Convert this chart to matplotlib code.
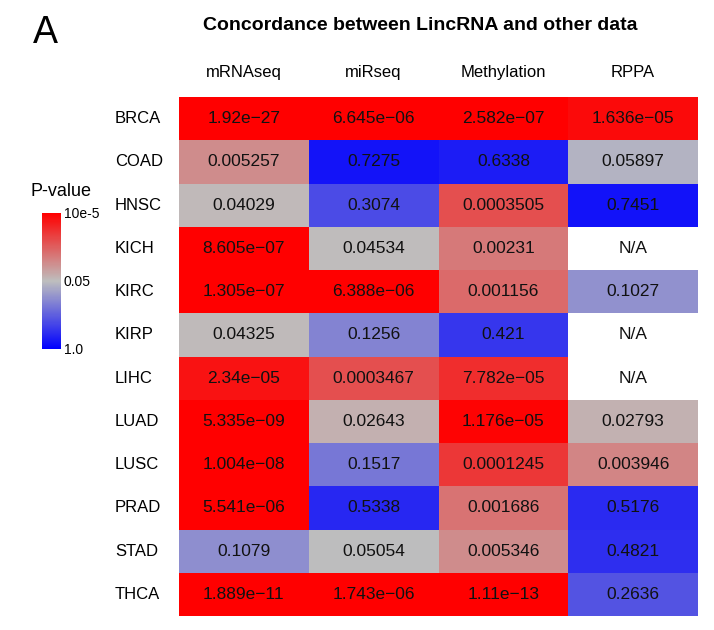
import numpy as np
import matplotlib
matplotlib.use("Agg")
import matplotlib.pyplot as plt
from matplotlib.colors import LinearSegmentedColormap, TwoSlopeNorm

plt.rcParams['font.family'] = ['Liberation Sans', 'DejaVu Sans']

cancers = ["BRCA", "COAD", "HNSC", "KICH", "KIRC", "KIRP", "LIHC",
           "LUAD", "LUSC", "PRAD", "STAD", "THCA"]
datatypes = ["mRNAseq", "miRseq", "Methylation", "RPPA"]

mrnaseq = [1.92e-27, 0.005257, 0.04029, 8.605e-07, 1.305e-07, 0.04325, 2.34e-05,
           5.335e-09, 1.004e-08, 5.541e-06, 0.1079, 1.889e-11]
mirseq = [6.645e-06, 0.7275, 0.3074, 0.04534, 6.388e-06, 0.1256, 0.0003467,
          0.02643, 0.1517, 0.5338, 0.05054, 1.743e-06]
methylation = [2.582e-07, 0.6338, 0.0003505, 0.00231, 0.001156, 0.421, 7.782e-05,
               1.176e-05, 0.0001245, 0.001686, 0.005346, 1.11e-13]
rppa = [1.636e-05, 0.05897, 0.7451, np.nan, 0.1027, np.nan, np.nan,
        0.02793, 0.003946, 0.5176, 0.4821, 0.2636]

cbar_ticks = [1e-5, 0.05, 1.0]
cbar_labels = ["10e-5", "0.05", "1.0"]

pvals = np.array([mrnaseq, mirseq, methylation, rppa]).T
logp = np.log10(pvals)

cmap = LinearSegmentedColormap.from_list(
    "rgb", [(1, 0, 0), (190/255, 190/255, 190/255), (0, 0, 1)])
cmap.set_bad("white")
norm = TwoSlopeNorm(vmin=np.log10(1e-5), vcenter=np.log10(0.05), vmax=0.0)

fig = plt.figure(figsize=(7.14, 6.3), dpi=100)
ax = fig.add_axes([179/714, 1-616/630, 519/714, 519/630])
masked = np.ma.masked_invalid(logp)
ax.pcolormesh(np.arange(len(datatypes)+1), np.arange(len(cancers)+1), masked,
              cmap=cmap, norm=norm)
ax.set_xlim(0, len(datatypes))
ax.set_ylim(len(cancers), 0)
for s in ax.spines.values():
    s.set_visible(False)
ax.set_xticks(np.arange(len(datatypes)) + 0.5)
ax.set_xticklabels(datatypes, fontsize=12)
ax.xaxis.tick_top()
ax.tick_params(axis='x', length=0, pad=12)
ax.set_yticks([])

for i, c in enumerate(cancers):
    ax.text(-64/130, i + 0.5, c, ha='left', va='center', fontsize=12)
    for j in range(len(datatypes)):
        v = pvals[i, j]
        s = "N/A" if np.isnan(v) else f"{v:.4g}".replace("-", "\u2212")
        ax.text(j + 0.5, i + 0.5, s, ha='center', va='center', fontsize=12.5,
                color='#111111')

fig.text(420/714, 1-25/630, "Concordance between LincRNA and other data",
         ha='center', va='center', fontsize=14, fontweight='bold')
fig.text(45/714, 1-33/630, "A", ha='center', va='center', fontsize=27)

cax = fig.add_axes([42/714, 1-349/630, 19/714, 136/630])
sm = plt.cm.ScalarMappable(cmap=cmap, norm=norm)
cb = fig.colorbar(sm, cax=cax)
cb.outline.set_visible(False)
cb.set_ticks(np.log10(cbar_ticks))
cb.set_ticklabels(cbar_labels)
cax.invert_yaxis()
cax.tick_params(length=0, labelsize=10, pad=2)
fig.text(61/714, 1-192/630, "P-value", ha='center', va='center', fontsize=13)

fig.savefig("out.png", dpi=100)
